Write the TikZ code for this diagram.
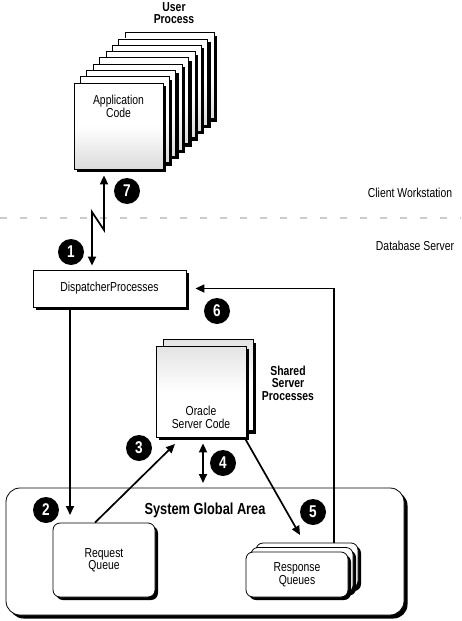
\documentclass[tikz,border=0pt]{standalone}
\usepackage{fontspec}
\setmainfont[FakeStretch=0.8]{Liberation Sans}
\usepackage{tikz}
\usetikzlibrary{calc,arrows.meta,positioning,shadows}
\tikzset{
    page element/.style={
        draw,line width=0.8pt,
        top color=white,bottom color=gray!28,middle color=white,
        minimum width=89pt,minimum height=86pt,
        drop shadow={shadow xshift=3pt,shadow yshift=-3pt,fill=black,opacity=1}
    },
    server element/.style={
        draw,line width=0.8pt,
        top color=gray!22,bottom color=white,middle color=white,
        minimum width=90pt,minimum height=91pt,
        drop shadow={shadow xshift=3pt,shadow yshift=-3pt,fill=black,opacity=1}
    },
    queue element/.style={
        draw,line width=0.8pt,rounded corners=7pt,
        fill=white,align=center,
        font=\fontsize{13}{12.5}\selectfont,
        drop shadow={shadow xshift=3pt,shadow yshift=-3pt,fill=black,opacity=1}
    },
    response element/.style={queue element,minimum width=102pt,minimum height=45pt},
    dispatcher element/.style={
        draw,line width=0.8pt,fill=white,
        minimum width=153pt,minimum height=37pt,
        font=\fontsize{13}{12.5}\selectfont,
        drop shadow={shadow xshift=3pt,shadow yshift=-3pt,fill=black,opacity=1}
    },
    number badge/.style={
        circle,fill=black,text=white,
        minimum size=26pt,inner sep=0pt,
        font=\fontsize{17}{17}\selectfont\bfseries
    },
    plain text/.style={align=center,font=\fontsize{13}{12.5}\selectfont},
    bold text/.style={align=center,font=\fontsize{13}{12.5}\selectfont\bfseries},
    flow/.style={line width=1.7pt},
    >={Triangle[length=9pt,width=8pt]}
}
\begin{document}
\begin{tikzpicture}[x=1pt,y=-1pt]
\useasboundingbox (0,0) rectangle (461,621);
\draw[gray!40,line width=2pt,dash pattern=on 7pt off 13pt] (0,218) -- (461,218);
\node[plain text] (client) at (410,193) {Client Workstation};
\node[plain text] (dbserver) at (415,246) {Database Server};

\node[bold text] (user) at (174,13) {User\\Process};
\foreach \k in {8,7,...,1}
    \node[page element] (app\k) at (118.5+6.4*\k,126-6.3*\k) {};
\node[page element] (app) at (118.5,126) {};
\node[plain text,below=9pt of app.north] (apptext) {Application\\Code};

\node[dispatcher element] (disp) at (109.5,288.5) {DispatcherProcesses};

\node[server element] (orab) at (208,385) {};
\node[server element] (ora) at (201,391.5) {};
\node[plain text] (oratext) at (201,417.5) {Oracle\\Server Code};
\node[bold text] (shared) at (288,383) {Shared\\Server\\Processes};

\node[draw,line width=0.8pt,fill=white,rounded corners=14pt,
      minimum width=398pt,minimum height=127pt,
      drop shadow={shadow xshift=3.5pt,shadow yshift=-3.5pt,fill=black,opacity=1}] (sga) at (205,551.5) {};
\node[bold text,font=\fontsize{16}{16}\selectfont\bfseries] (sgatext) at (205,510) {System Global Area};
\node[queue element,minimum width=102pt,minimum height=74pt] (rq) at (104,560) {Request\\Queue};
\foreach \k in {2,1}
    \node[response element] (rsp\k) at (297+5*\k,574.5-4.5*\k) {};
\node[response element] (rsp) at (297,574.5) {Response\\Queues};

\foreach \n/\x/\y in {1/71/252,2/46/510,3/139/448,4/223/463,5/313/512,6/217/311,7/127/191}
    \node[number badge] (n\n) at (\x,\y) {\n};

\coordinate (z1) at (104,230);
\coordinate (z2) at (92,212);
\draw[flow,<->,shorten <=6pt,shorten >=4pt] (app.south -| z1) -- (z1) -- (z2) -- (disp.north -| z2);
\coordinate (c2) at (70,515);
\draw[flow,->] (disp.south -| c2) -- (c2);
\coordinate (c3) at (175,444);
\draw[flow,->] ($(rq.north)+(-9pt,0)$) -- (c3);
\coordinate (c4) at (203,483);
\draw[flow,<->,shorten <=6pt] (ora.south -| c4) -- (c4);
\coordinate (c5) at (300,535);
\draw[flow,->] ($(ora.south east)+(-2pt,0)$) -- (c5);
\coordinate (c6) at (334,288);
\draw[flow,->,shorten >=9pt] (rsp2.north -| c6) |- (disp.east);
\end{tikzpicture}
\end{document}
